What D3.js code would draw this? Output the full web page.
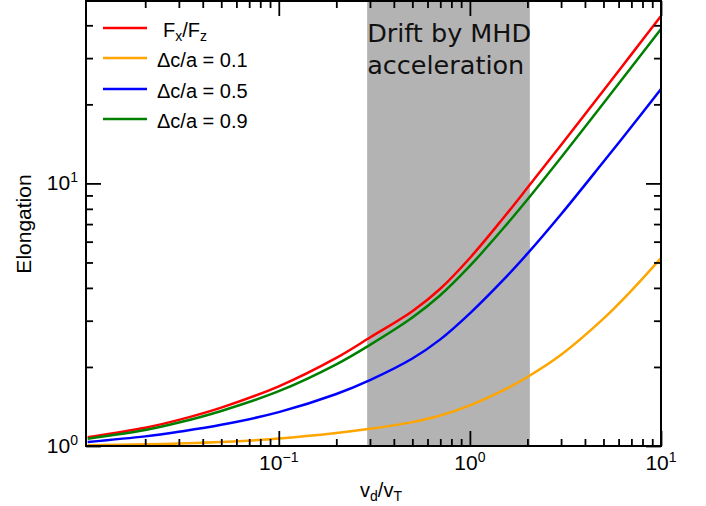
<!DOCTYPE html>
<meta charset="utf-8">
<head>
    <script type="text/javascript" src="https://cdn.jsdelivr.net/npm/d3@7"></script>
    <style>
        body { margin: 0; background: #fff; }
        text { font-family: "Liberation Sans", Arial, sans-serif; }
    </style>
    <title>Elongation</title>
</head>
<body>
<script>
    // data
    var velocity = [0.01, 0.02, 0.03, 0.05, 0.1, 0.2, 0.3, 0.5, 0.7, 1, 1.5, 2, 3, 5, 7, 10];
    var forceRatio = [1.08, 1.173, 1.257, 1.40, 1.688, 2.166, 2.589, 3.26, 3.97, 5.2, 7.40, 9.62, 14.0, 22.6, 31.0, 43.4];
    var dca01 = [1.006, 1.015, 1.022, 1.035, 1.068, 1.121, 1.163, 1.233, 1.306, 1.428, 1.632, 1.831, 2.225, 3.054, 3.904, 5.19];
    var dca05 = [1.036, 1.088, 1.133, 1.204, 1.346, 1.578, 1.782, 2.153, 2.547, 3.20, 4.30, 5.40, 7.63, 12.09, 16.43, 22.89];
    var dca09 = [1.066, 1.150, 1.228, 1.360, 1.617, 2.047, 2.427, 3.085, 3.75, 4.85, 6.76, 8.685, 12.56, 20.2, 27.7, 38.75];

    var seriesNames = ["Fx/Fz", "Δc/a = 0.1", "Δc/a = 0.5", "Δc/a = 0.9"];
    var seriesColors = ["#ff0000", "#ffa500", "#0000ff", "#008000"];
    var seriesValues = [forceRatio, dca01, dca05, dca09];

    var driftBand = [0.29, 2.06];
    var xMajor = [0.1, 1, 10];
    var yMajor = [1, 10];

    var width = 706, height = 506;
    var margin = {top: 1, right: 45, bottom: 60, left: 86};

    var svg = d3.select("body")
        .append("svg")
        .attr("width", width)
        .attr("height", height);

    var x = d3.scaleLog().domain([0.0098, 10]).range([margin.left, width - margin.right]);
    var y = d3.scaleLog().domain([1, 49.5]).range([height - margin.bottom, margin.top]);

    var x0 = x.range()[0], x1 = x.range()[1];
    var y0 = y.range()[0], y1 = y.range()[1];

    svg.append("clipPath").attr("id", "clip")
        .append("rect")
        .attr("x", x0).attr("y", y1)
        .attr("width", x1 - x0).attr("height", y0 - y1);

    // shaded drift region
    svg.append("rect")
        .attr("x", x(driftBand[0]))
        .attr("y", y1)
        .attr("width", x(driftBand[1]) - x(driftBand[0]))
        .attr("height", y0 - y1)
        .attr("fill", "#b3b3b3");

    var note = svg.append("text")
        .attr("x", x(driftBand[0]))
        .style("font-family", "'DejaVu Sans'")
        .attr("font-size", "25.5px")
        .attr("fill", "#111");
    note.append("tspan").attr("x", x(driftBand[0])).attr("y", 42).text("Drift by MHD");
    note.append("tspan").attr("x", x(driftBand[0])).attr("y", 74).text("acceleration");

    // curves
    var line = d3.line()
        .x(function (d) { return x(d[0]); })
        .y(function (d) { return y(d[1]); })
        .curve(d3.curveCatmullRom.alpha(0.5));

    var plot = svg.append("g").attr("clip-path", "url(#clip)");
    seriesValues.forEach(function (vals, i) {
        plot.append("path")
            .datum(velocity.map(function (v, j) { return [v, vals[j]]; }))
            .attr("fill", "none")
            .attr("stroke", seriesColors[i])
            .attr("stroke-width", 2.5)
            .attr("d", line);
    });

    // ticks, inward on all four sides
    function minorTicks(lo, hi) {
        var t = [];
        for (var e = lo; e < hi; e++) {
            for (var m = 2; m <= 9; m++) t.push(m * Math.pow(10, e));
        }
        return t;
    }
    var xMinor = minorTicks(-2, 1).filter(function (v) { return v >= x.domain()[0] && v <= 10; });
    var yMinor = minorTicks(0, 2).filter(function (v) { return v <= y.domain()[1]; });

    function tickAxis(axisFn, scale, vals, size, tx, ty) {
        svg.append("g")
            .attr("transform", "translate(" + tx + "," + ty + ")")
            .call(axisFn(scale).tickValues(vals).tickSize(size).tickFormat(""))
            .call(function (g) { g.select(".domain").remove(); })
            .selectAll("line").attr("stroke", "#000").attr("stroke-width", 1.8);
    }
    tickAxis(d3.axisBottom, x, xMinor, -7, 0, y0);
    tickAxis(d3.axisBottom, x, xMajor, -15, 0, y0);
    tickAxis(d3.axisTop, x, xMinor, -7, 0, y1);
    tickAxis(d3.axisTop, x, xMajor, -15, 0, y1);
    tickAxis(d3.axisLeft, y, yMinor, -7, x0, 0);
    tickAxis(d3.axisLeft, y, yMajor, -15, x0, 0);
    tickAxis(d3.axisRight, y, yMinor, -7, x1, 0);
    tickAxis(d3.axisRight, y, yMajor, -15, x1, 0);

    // frame
    svg.append("rect")
        .attr("x", x0).attr("y", y1)
        .attr("width", x1 - x0).attr("height", y0 - y1)
        .attr("fill", "none")
        .attr("stroke", "#000")
        .attr("stroke-width", 2);

    // tick labels with superscript exponents
    function powLabel(g, v) {
        var e = Math.round(Math.log10(v));
        g.append("tspan").text("10");
        g.append("tspan").attr("font-size", "14px").attr("dy", -8)
            .text(e < 0 ? "\u2212" + (-e) : e);
    }
    xMajor.forEach(function (v) {
        var t = svg.append("text")
            .attr("x", x(v)).attr("y", 470)
            .attr("text-anchor", "middle")
            .attr("font-size", "21px");
        powLabel(t, v);
    });
    yMajor.forEach(function (v) {
        var t = svg.append("text")
            .attr("x", 78).attr("y", y(v) + 7)
            .attr("text-anchor", "end")
            .attr("font-size", "21px");
        powLabel(t, v);
    });

    // axis titles
    var xt = svg.append("text")
        .attr("x", 381).attr("y", 497)
        .attr("text-anchor", "middle")
        .attr("font-size", "20px");
    xt.append("tspan").text("v");
    xt.append("tspan").attr("font-size", "14px").attr("dy", 4).text("d");
    xt.append("tspan").attr("dy", -4).text("/v");
    xt.append("tspan").attr("font-size", "14px").attr("dy", 4).text("T");

    svg.append("text")
        .attr("transform", "translate(31,224) rotate(-90)")
        .attr("text-anchor", "middle")
        .attr("font-size", "21px")
        .text("Elongation");

    // legend
    var legendY = [28, 58, 89, 119];
    seriesNames.forEach(function (name, i) {
        svg.append("line")
            .attr("x1", 103).attr("x2", 147)
            .attr("y1", legendY[i]).attr("y2", legendY[i])
            .attr("stroke", seriesColors[i])
            .attr("stroke-width", 2.5);
        var t = svg.append("text")
            .attr("x", i === 0 ? 163 : 157)
            .attr("y", legendY[i] + 9)
            .attr("font-size", "20px");
        if (i === 0) {
            t.append("tspan").text("F");
            t.append("tspan").attr("font-size", "14px").attr("dy", 4).text("x");
            t.append("tspan").attr("dy", -4).text("/F");
            t.append("tspan").attr("font-size", "14px").attr("dy", 4).text("z");
        } else {
            t.text(name);
        }
    });
</script>
</body>
</html>
